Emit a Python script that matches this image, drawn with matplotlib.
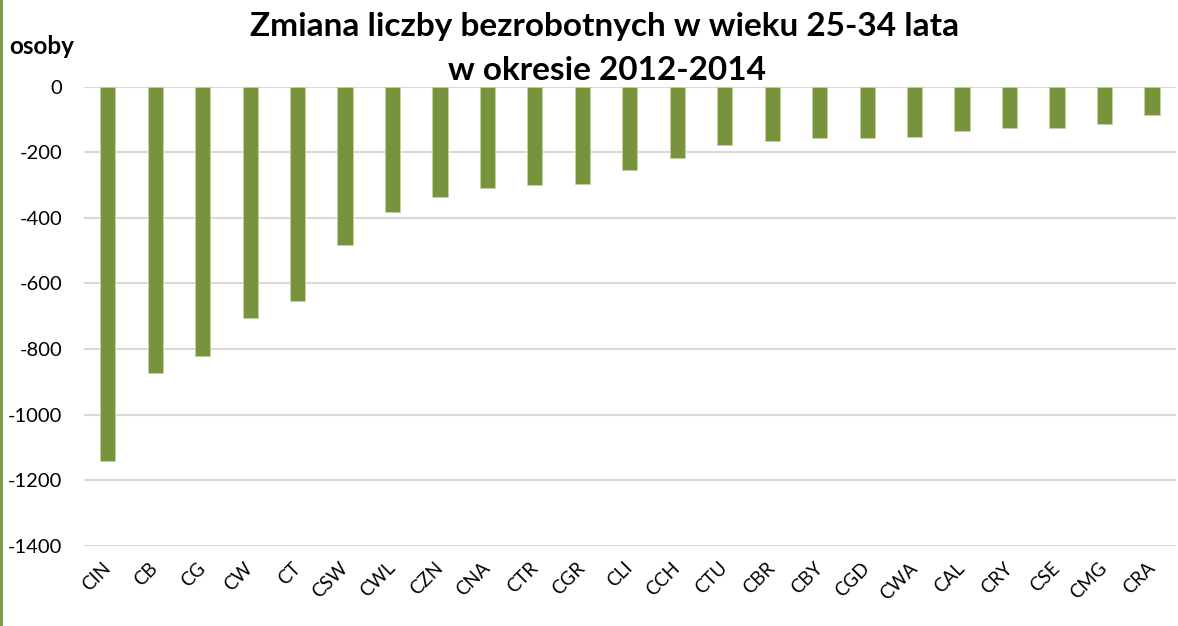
import numpy as np
import matplotlib.pyplot as plt
from matplotlib.lines import Line2D

# change in the number of unemployed aged 25-34, 2012-2014
codes = ['CIN', 'CB', 'CG', 'CW', 'CT', 'CSW', 'CWL', 'CZN', 'CNA', 'CTR', 'CGR', 'CLI',
         'CCH', 'CTU', 'CBR', 'CBY', 'CGD', 'CWA', 'CAL', 'CRY', 'CSE', 'CMG', 'CRA']
change = [-1143, -874, -822, -706, -655, -482, -382, -335, -310, -301, -298, -255,
          -216, -179, -167, -157, -156, -153, -134, -127, -126, -113, -85]

green = '#77933C'
plt.rcParams['font.family'] = ['Lato', 'DejaVu Sans']
plt.rcParams['axes.unicode_minus'] = False

fig = plt.figure(figsize=(11.78, 6.26), dpi=100)
ax = fig.add_axes([0.0713, 0.1283, 0.9267, 0.7332])

x = np.arange(len(codes))
ax.bar(x, change, width=0.32, color=green, edgecolor='#C3D69B', linewidth=0.6, zorder=3)

ax.set_xlim(-0.5, len(codes) - 0.5)
ax.set_ylim(-1400, 0)
ax.set_yticks(np.arange(-1400, 1, 200))
ax.yaxis.grid(True, color='#D9D9D9', linewidth=1.5, zorder=0)
ax.set_xticks(x)
ax.set_xticklabels(codes, rotation=45, ha='right', va='center', rotation_mode='anchor')
for s in ax.spines.values():
    s.set_visible(False)
ax.tick_params(axis='y', length=0, pad=15.5, labelsize=14.5, labelcolor='#000000')
ax.tick_params(axis='x', length=0, pad=14, labelsize=13.5, labelcolor='#000000')

title_kw = dict(ha='center', va='center', fontsize=24, fontweight='bold')
fig.text(0.5136, 0.957, 'Zmiana liczby bezrobotnych w wieku 25-34 lata', **title_kw)
fig.text(0.5153, 0.888, 'w okresie 2012-2014', **title_kw)
fig.text(0.008, 0.925, 'osoby', ha='left', va='center', fontsize=17.5, fontweight='bold')

# thin green frame line on the left side
fig.add_artist(Line2D([0.001, 0.001], [0, 1], transform=fig.transFigure, color=green, linewidth=2))

fig.savefig('out.png', dpi=100)
